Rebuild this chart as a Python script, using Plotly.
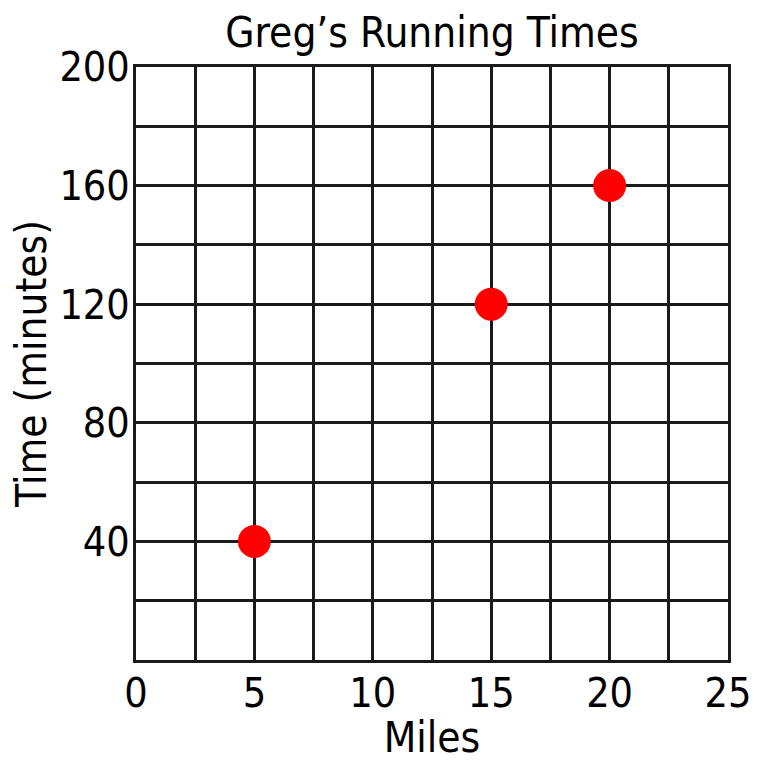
import plotly.graph_objects as go

miles = [5, 15, 20]
times = [40, 120, 160]

x_grid = [0, 2.5, 5, 7.5, 10, 12.5, 15, 17.5, 20, 22.5, 25]
x_labels = ["0", "", "5", "", "10", "", "15", "", "20", "", "25"]
y_grid = [0, 20, 40, 60, 80, 100, 120, 140, 160, 180, 200]
y_labels = ["", "", "40", "", "80", "", "120", "", "160", "", "200"]

FONT = "DejaVu Sans Condensed, Liberation Sans Narrow, sans-serif"

fig = go.Figure()
fig.add_trace(go.Scatter(
    x=miles, y=times, mode="markers",
    marker=dict(color="#ff0000", size=33, line=dict(width=0)),
    cliponaxis=False,
))

axis_common = dict(
    showgrid=True, gridcolor="#1a1a1a", gridwidth=3,
    showline=True, linecolor="#1a1a1a", linewidth=3, mirror=True,
    zeroline=False, ticks="", tickfont=dict(size=41, color="black", family=FONT),
    tickmode="array", automargin=False,
)

fig.update_layout(
    width=764, height=762,
    margin=dict(l=136, r=36, t=67, b=102),
    paper_bgcolor="white", plot_bgcolor="white",
    showlegend=False,
    title=dict(text="Greg’s Running Times", x=0.5, xref="paper", xanchor="center",
               y=1 - 32 / 762, yanchor="middle", automargin=False,
               font=dict(size=42, color="black", family=FONT)),
    xaxis=dict(range=[0, 25], tickvals=x_grid, ticktext=x_labels, ticklabelstandoff=-5,
               title=dict(text="Miles", font=dict(size=42, color="black", family=FONT), standoff=16),
               **axis_common),
    yaxis=dict(range=[0, 200], tickvals=y_grid, ticktext=y_labels, ticklabelstandoff=-5,
               title=dict(text="Time (minutes)", font=dict(size=42, color="black", family=FONT), standoff=0),
               **axis_common),
)

fig.write_html(
    "out.html",
    config={"displayModeBar": False},
    post_script="document.body.style.margin='0';document.body.style.overflow='hidden';",
)
